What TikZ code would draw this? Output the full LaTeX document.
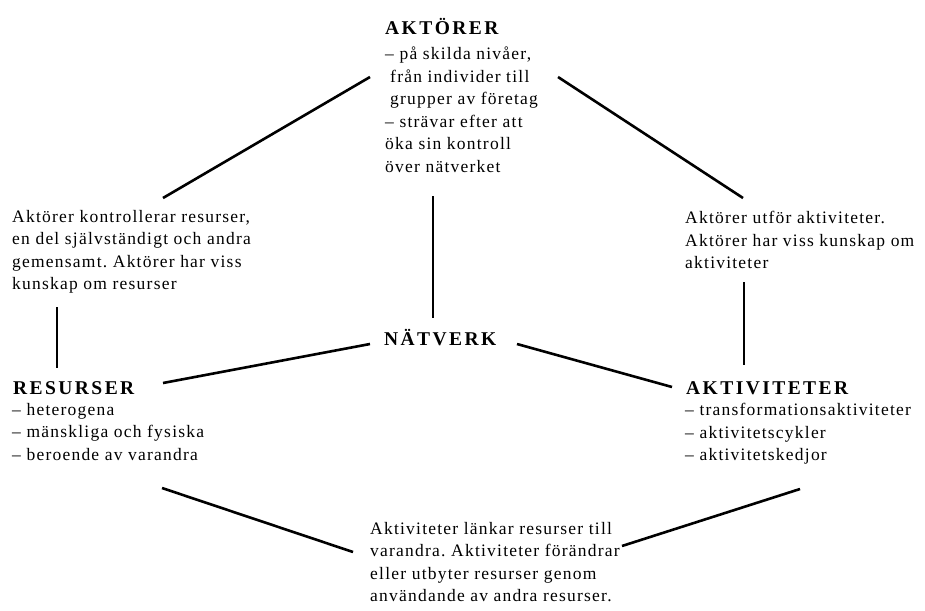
\documentclass[tikz,border=0pt]{standalone}
\usepackage{fontspec}
\setmainfont{Liberation Serif}[LetterSpace=7]
\newfontfamily\titlefont{Liberation Serif}[LetterSpace=12.5]
\frenchspacing
\begin{document}
\begin{tikzpicture}[x=1pt,y=-1pt]
\tikzset{
  title/.style={anchor=base west, inner sep=0pt, font=\titlefont\bfseries\fontsize{19.5}{22}\selectfont},
  block/.style={anchor=north west, inner sep=0pt, align=left, font=\fontsize{17.5}{22.5}\selectfont, execute at begin node={\rule{0pt}{15pt}}},
  link/.style={line width=2.6pt}
}
\useasboundingbox (0,0) rectangle (925,610);

% titles
\node[title] (aktorer) at (385,35) {AKTÖRER};
\node[title] (natverk) at (384,345) {NÄTVERK};
\node[title] (resurser) at (13,394) {RESURSER};
\node[title] (aktiviteter) at (686,394) {AKTIVITETER};

% text blocks
\node[block] (aktorertext) at (385,47) {– på skilda nivåer,\\\hspace*{5pt}från individer till\\\hspace*{5pt}grupper av företag\\– strävar efter att\\öka sin kontroll\\över nätverket};
\node[block] (leftrel) at (12,210) {Aktörer kontrollerar resurser,\\en del självständigt och andra\\gemensamt. Aktörer har viss\\kunskap om resurser};
\node[block] (rightrel) at (685,211) {Aktörer utför aktiviteter.\\Aktörer har viss kunskap om\\aktiviteter};
\node[block] (resursertext) at (12,403) {– heterogena\\– mänskliga och fysiska\\– beroende av varandra};
\node[block] (aktivitetertext) at (685,403) {– transformationsaktiviteter\\– aktivitetscykler\\– aktivitetskedjor};
\node[block] (bottomrel) at (370,522) {Aktiviteter länkar resurser till\\varandra. Aktiviteter förändrar\\eller utbyter resurser genom\\användande av andra resurser.};

% connector end points
\coordinate (atl) at (370,77);
\coordinate (lrt) at (163,198);
\coordinate (atr) at (558,77);
\coordinate (rrt) at (743,198);
\coordinate (atb) at (433,196);
\coordinate (ntt) at (433,318);
\coordinate (lrb) at (57,307);
\coordinate (rst) at (57,368);
\coordinate (rrb) at (744,282);
\coordinate (akt) at (744,365);
\coordinate (ntl) at (370,344);
\coordinate (rsr) at (163,383);
\coordinate (ntr) at (517,344);
\coordinate (akl) at (672,387);
\coordinate (rsb) at (162,488);
\coordinate (brl) at (353,552);
\coordinate (brr) at (622,546);
\coordinate (akb) at (800,489);

\draw[link] (atl) -- (lrt);
\draw[link] (atr) -- (rrt);
\draw[link] (atb) -- (ntt);
\draw[link] (lrb) -- (rst);
\draw[link] (rrb) -- (akt);
\draw[link] (ntl) -- (rsr);
\draw[link] (ntr) -- (akl);
\draw[link] (rsb) -- (brl);
\draw[link] (brr) -- (akb);
\end{tikzpicture}
\end{document}
